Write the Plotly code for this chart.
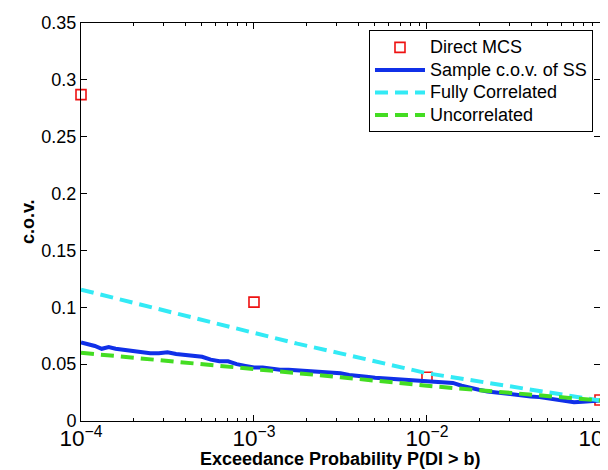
import plotly.graph_objects as go

# Direct MCS points
mcs_exp = [-4, -3, -2, -1]
mcs_cov = [0.287, 0.1045, 0.0385, 0.0185]

# Fully correlated (dashed cyan)
fc_exp = [-4.0, -3.75, -3.5, -3.25, -3.0, -2.75, -2.5, -2.25, -2.0, -1.75, -1.5, -1.25, -1.0]
fc_cov = [0.1155, 0.106, 0.096, 0.0865, 0.077, 0.068, 0.0595, 0.051, 0.042, 0.036, 0.030, 0.024, 0.018]

# Uncorrelated (dashed green)
uc_exp = [-4.0, -3.5, -3.0, -2.5, -2.0, -1.5, -1.0]
uc_cov = [0.060, 0.053, 0.046, 0.0385, 0.031, 0.0245, 0.018]

# Sample c.o.v. of SS (solid blue)
ss_exp = [-4.00, -3.96, -3.92, -3.88, -3.84, -3.80, -3.75, -3.70, -3.65, -3.60,
          -3.55, -3.50, -3.45, -3.40, -3.35, -3.30, -3.25, -3.20, -3.15, -3.10,
          -3.05, -3.00, -2.95, -2.90, -2.85, -2.80, -2.75, -2.70, -2.65, -2.60,
          -2.55, -2.50, -2.45, -2.40, -2.35, -2.30, -2.25, -2.20, -2.15, -2.10,
          -2.05, -2.00, -1.95, -1.90, -1.85, -1.80, -1.75, -1.70, -1.65, -1.60,
          -1.55, -1.50, -1.45, -1.40, -1.35, -1.30, -1.25, -1.20, -1.15, -1.10,
          -1.05, -1.00]
ss_cov = [0.069, 0.0675, 0.066, 0.0635, 0.065, 0.0635, 0.0625, 0.0615, 0.061, 0.0595,
          0.0595, 0.0605, 0.059, 0.058, 0.057, 0.0565, 0.054, 0.0525, 0.0525, 0.050,
          0.0485, 0.047, 0.047, 0.046, 0.045, 0.045, 0.0445, 0.0435, 0.043, 0.0425,
          0.0425, 0.042, 0.0405, 0.040, 0.039, 0.038, 0.0375, 0.037, 0.036, 0.0355,
          0.035, 0.035, 0.0345, 0.034, 0.0335, 0.031, 0.029, 0.0275, 0.026, 0.025,
          0.024, 0.0235, 0.022, 0.0215, 0.021, 0.020, 0.019, 0.0175, 0.0165, 0.017,
          0.0175, 0.018]

series_names = ["Direct MCS", "Sample c.o.v. of SS", "Fully Correlated", "Uncorrelated"]

y_ticks = [0, 0.05, 0.1, 0.15, 0.2, 0.25, 0.3, 0.35]
y_tick_text = ["0", "0.05", "0.1", "0.15", "0.2", "0.25", "0.3", "0.35"]

def to_x(exps):
    return [10 ** e for e in exps]

def legend_name(s):
    return '<span style="font-size:18px">' + s + '</span>'

fig = go.Figure()
fig.add_trace(go.Scatter(
    x=to_x(mcs_exp), y=mcs_cov, mode="markers", name=legend_name(series_names[0]),
    marker=dict(symbol="square-open", size=10, color="#ee1111", line=dict(width=1.6, color="#ee1111")),
    cliponaxis=False))
fig.add_trace(go.Scatter(
    x=to_x(ss_exp), y=ss_cov, mode="lines", name=legend_name(series_names[1]),
    line=dict(color="#1030e8", width=4)))
fig.add_trace(go.Scatter(
    x=to_x(fc_exp), y=fc_cov, mode="lines", name=legend_name(series_names[2]),
    line=dict(color="#33eaf5", width=4, dash="13px,7px")))
fig.add_trace(go.Scatter(
    x=to_x(uc_exp), y=uc_cov, mode="lines", name=legend_name(series_names[3]),
    line=dict(color="#44dd22", width=4, dash="13px,7px")))

font_family = "Liberation Sans, Arial, sans-serif"

fig.update_layout(
    width=608, height=470,
    margin=dict(l=73, r=16, t=15, b=57, autoexpand=False),
    paper_bgcolor="white", plot_bgcolor="white",
    font=dict(family=font_family, size=18, color="black"),
    showlegend=True,
    legend=dict(
        x=0.9865, xanchor="right", y=0.982, yanchor="top",
        bgcolor="white", bordercolor="black", borderwidth=1,
        font=dict(size=15, family=font_family), tracegroupgap=0,
        itemwidth=50,
    ),
    xaxis=dict(
        type="log", range=[-4, -0.9999], dtick=1, exponentformat="power",
        automargin=False, ticklabeloverflow="allow", ticklabelstandoff=-2,
        showline=True, linecolor="black", linewidth=1, mirror="ticks",
        ticks="inside", ticklen=6, tickcolor="black", showgrid=False, zeroline=False,
        minor=dict(ticks="inside", ticklen=3, tickcolor="black", showgrid=False),
        tickfont=dict(size=18),
    ),
    yaxis=dict(
        range=[0, 0.35], tickvals=y_ticks, ticktext=y_tick_text,
        automargin=False,
        showline=True, linecolor="black", linewidth=1, mirror="ticks",
        ticks="inside", ticklen=6, tickcolor="black", showgrid=False, zeroline=False,
        tickfont=dict(size=18),
    ),
    annotations=[
        dict(text="<b>Exceedance Probability P(DI > b)</b>", xref="paper", yref="paper",
             x=0.5, y=-0.0955, xanchor="center", yanchor="middle", showarrow=False,
             font=dict(size=18)),
        dict(text="<b>c.o.v.</b>", xref="paper", yref="paper",
             x=-0.102, y=0.5, xanchor="center", yanchor="middle", showarrow=False,
             textangle=-90, font=dict(size=18)),
    ],
)

fig.write_html("out.html")
